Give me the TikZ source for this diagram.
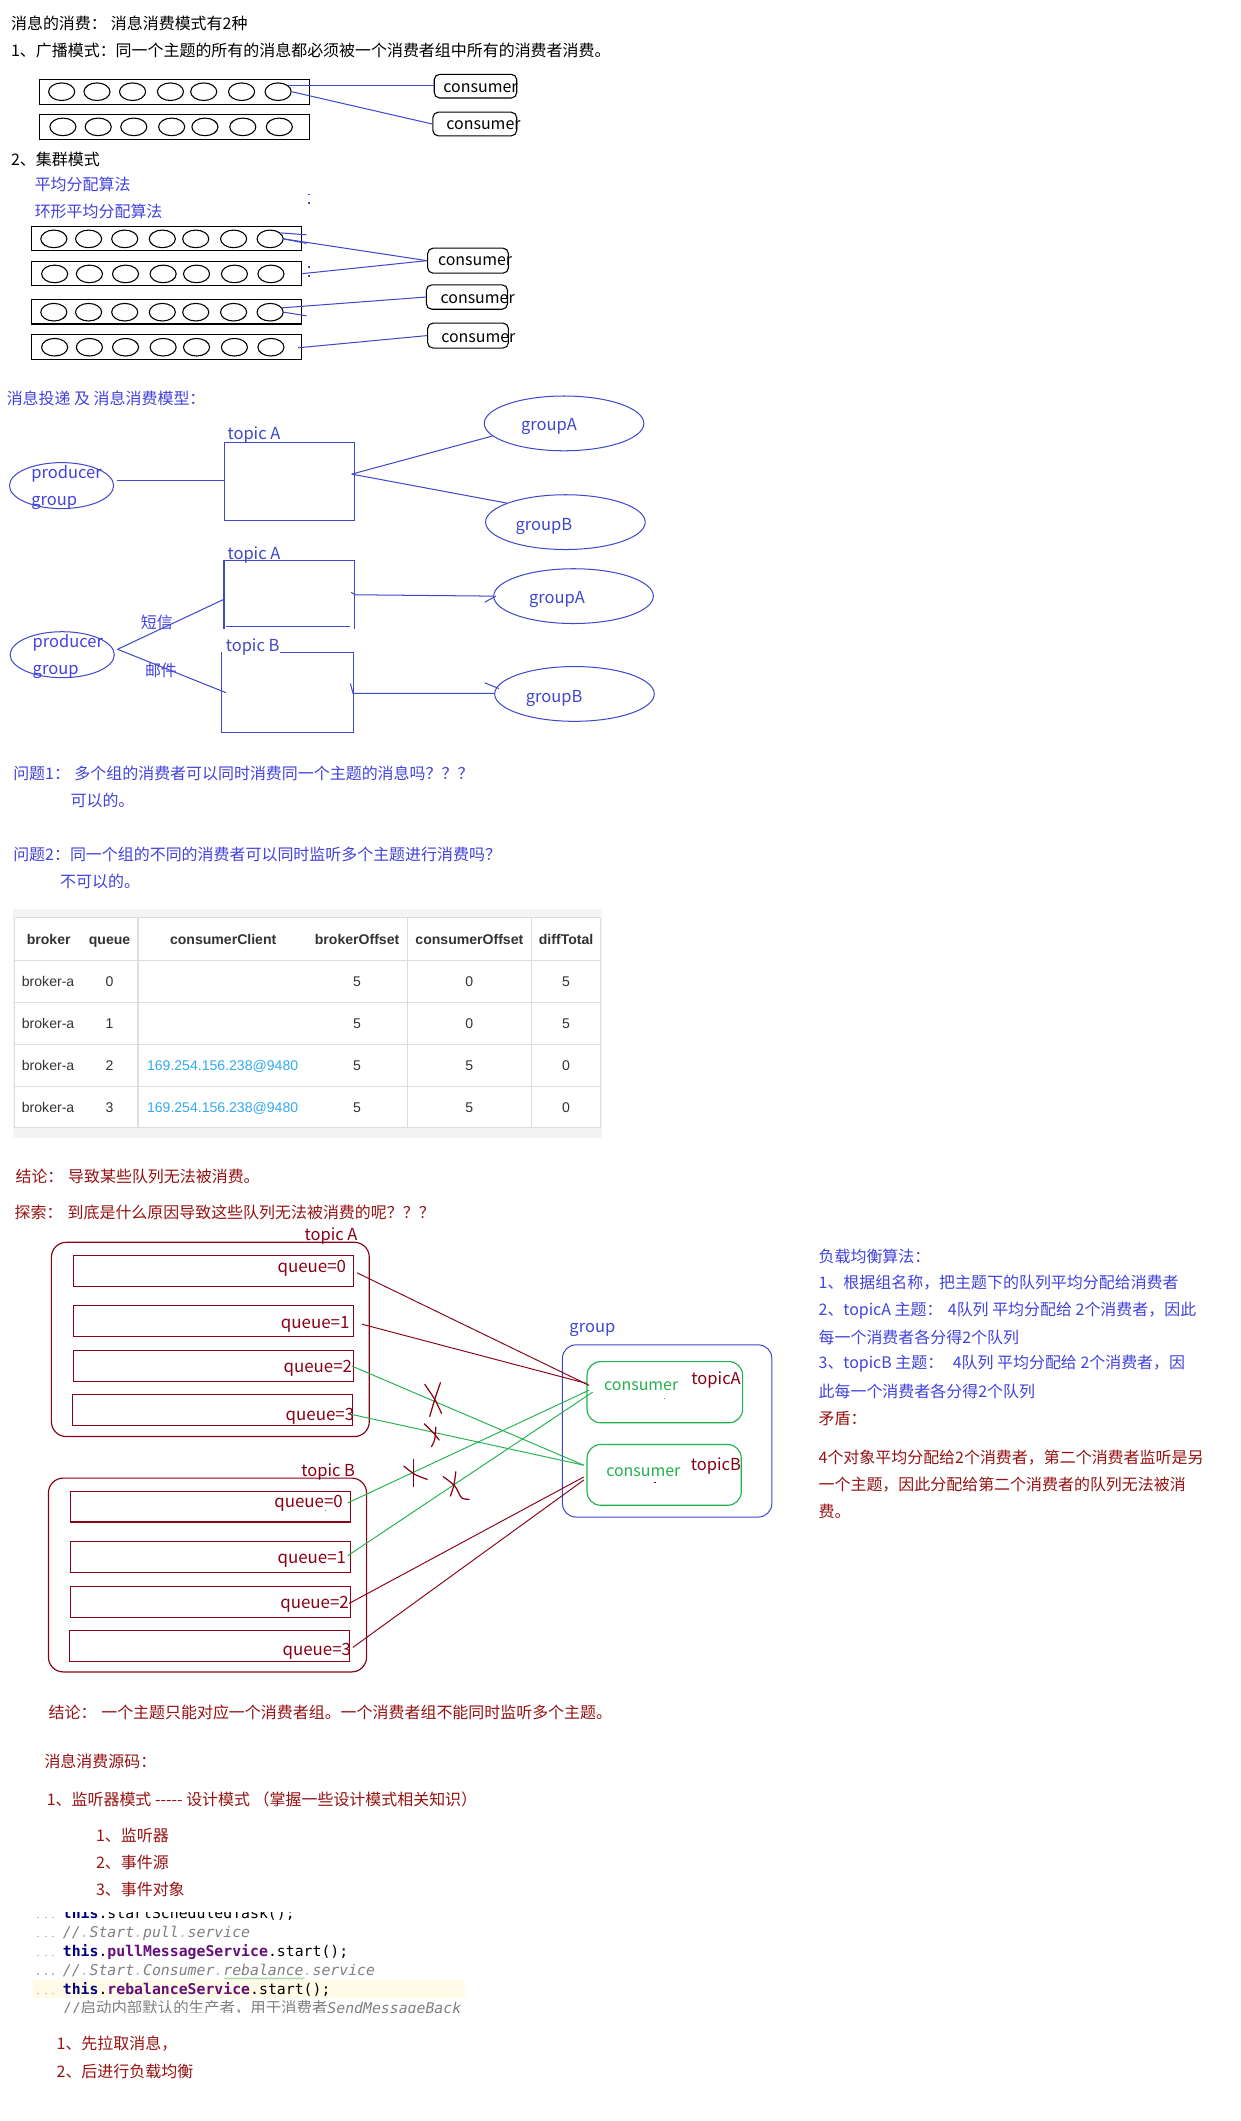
\documentclass[tikz,border=0pt]{standalone}
\usepackage{fontspec}
\setmainfont{Noto Sans CJK SC}
\newfontfamily\tablefont{Liberation Sans}
\newfontfamily\codefont{DejaVu Sans Mono}
\newfontfamily\codecjkfont{Noto Sans CJK SC}
\usetikzlibrary{shapes.geometric,calc,decorations.pathmorphing}

\definecolor{paintblue}{RGB}{63,72,204}
\definecolor{noteblue}{RGB}{66,66,222}
\definecolor{paintred}{RGB}{136,0,21}
\definecolor{notered}{RGB}{150,18,18}
\definecolor{paintgreen}{RGB}{34,177,76}
\definecolor{iplink}{RGB}{51,170,240}
\definecolor{cellrule}{RGB}{221,221,221}
\definecolor{tableback}{RGB}{244,244,244}
\definecolor{celltext}{RGB}{51,51,51}
\definecolor{curline}{RGB}{255,251,230}
\definecolor{kwnavy}{RGB}{0,0,128}
\definecolor{fieldpurple}{RGB}{102,14,122}
\definecolor{commentgray}{RGB}{128,128,128}
\definecolor{wsgray}{RGB}{190,190,190}
\definecolor{spellgreen}{RGB}{140,200,140}

\newcommand{\wsdot}{\textcolor{wsgray}{.}}

\begin{document}
\begin{tikzpicture}[x=1pt, y={(0,-1pt)},
  txt/.style={anchor=west, inner sep=0pt, font=\fontsize{11.8}{14}\selectfont},
  ptxt/.style={anchor=west, inner sep=0pt, font=\fontsize{12.2}{15}\selectfont},
  ctxt/.style={anchor=west, inner sep=0pt, font=\fontsize{11.8}{14}\selectfont},
  qtxt/.style={anchor=west, inner sep=0pt, font=\fontsize{12.5}{15}\selectfont, text=paintred},
  wire/.style={line width=0.75pt},
  slot/.style={draw=black, line width=0.9pt, minimum width=200pt, minimum height=18.4pt, inner sep=0pt},
  msg/.style={ellipse, draw=black, line width=0.8pt, minimum width=19.3pt, minimum height=13pt, inner sep=0pt},
  cbox/.style={draw=black, line width=0.8pt, rounded corners=4pt, minimum width=60pt, minimum height=18.3pt, inner sep=0pt},
  oval/.style={ellipse, draw=paintblue, line width=0.75pt, minimum width=118pt, minimum height=40.5pt, inner sep=0pt},
  pgoval/.style={ellipse, draw=paintblue, line width=0.75pt, minimum width=77pt, minimum height=34pt, inner sep=0pt},
  tbox/.style={line width=0.8pt, inner sep=0pt},
  qbox/.style={draw=paintred, line width=0.85pt, minimum width=207.2pt, minimum height=22.9pt, inner sep=0pt},
  topicframe/.style={draw=paintred, line width=0.85pt, rounded corners=11pt, inner sep=0pt},
  cell/.style={anchor=base, inner sep=0pt, font=\tablefont\fontsize{10.4}{12}\selectfont, text=celltext},
  head/.style={anchor=base, inner sep=0pt, font=\tablefont\bfseries\fontsize{10.4}{12}\selectfont, text=celltext},
  code/.style={anchor=base west, inner sep=0pt, font=\codefont\fontsize{10.95}{13}\selectfont},
  xmark/.style={draw=paintred, line width=0.9pt, line cap=round},
]
\useasboundingbox (0,0) rectangle (917,1568);
\fill[white] (0,0) rectangle (917,1568);

% ---------------- consumption modes ----------------
\node[txt] (title) at (8,17) {消息的消费：\hspace{3pt}消息消费模式有2种};
\node[txt] (bcast) at (8,37.4) {1、广播模式：同一个主题的所有的消息都必须被一个消费者组中所有的消费者消费。};

\node[slot] (bq1) at (129,67.8) {};
\node[slot] (bq2) at (129,93.8) {};
\foreach \x [count=\i] in {45.6,71.7,98,126,150.6,178.6,205.6} {
  \node[msg] (bq1c\i) at (\x,67.8) {};
  \node[msg] (bq2c\i) at (\x+0.9,93.8) {};
}
\node[cbox, minimum width=61pt, minimum height=17.5pt] (cb1) at (351.5,63.7) {};
\node[cbox, minimum width=62pt, minimum height=17.5pt] (cb2) at (351,91.7) {};
\node[ctxt] (cb1t) at (327.6,65.3) {consumer};
\node[ctxt] (cb2t) at (329.8,92.4) {consumer};
\draw[wire, paintblue] (bq1c7.north east) -- (bq1c7.north east -| cb1.west);
\draw[wire, paintblue] (bq1c7.east) -- (cb2.west);

\node[txt] (cluster) at (8,117.5) {2、集群模式};
\node[txt, text=noteblue] (avg) at (25.5,136) {平均分配算法};
\node[txt, text=noteblue] (ring) at (25.5,156) {环形平均分配算法};
\fill[paintblue] (227.8,143.1) rectangle (228.9,144.1);
\fill[paintblue] (227.8,149.7) rectangle (228.9,150.7);

\foreach \y/\dx [count=\r] in {176.6/0,202.5/0.6,230.8/0,256.7/0.6} {
  \node[slot, minimum width=199.7pt, minimum height=18pt] (cq\r) at (123.15,\y-0.2) {};
  \foreach \x [count=\i] in {39.8,65.5,92.2,120,144.7,172.7,199.7} {
    \node[msg] (cq\r c\i) at (\x+\dx,\y) {};
  }
}
\node[cbox, minimum width=59.7pt, minimum height=18.5pt] (cA) at (346,192.7) {};
\node[cbox, minimum width=60pt, minimum height=18pt] (cB) at (345.2,219.6) {};
\node[cbox, minimum width=59.7pt, minimum height=18.5pt] (cC) at (346,248.1) {};
\node[ctxt] (cAt) at (323.6,193.3) {consumer};
\node[ctxt] (cBt) at (325.5,221.2) {consumer};
\node[ctxt] (cCt) at (326,250) {consumer};

\coordinate (cq1tipA) at (226.6,173.6);
\coordinate (cq1tipB) at (226.6,180);
\coordinate (cq3tip) at (226.6,233.5);
\draw[wire, paintblue] (cq1c7.30) -- (cq1tipA);
\draw[wire, paintblue] (cq1c7.east) -- (cq1tipB);
\draw[wire, paintblue] (cq1c7.east) -- (cA.west);
\draw[wire, paintblue] (cq2.east) -- (cA.west);
\fill[paintblue] (227.8,197) rectangle (228.9,198);
\fill[paintblue] (227.8,203.5) rectangle (228.9,204.5);
\draw[wire, paintblue] (cq3c7.20) -- (cB.west);
\draw[wire, paintblue] (cq3c7.east) -- (cq3tip);
\draw[wire, paintblue] ($(cq4.east)+(-3,0.6)$) -- (cC.west);

% ---------------- delivery and consumption model ----------------
\node[txt, text=noteblue] (model) at (4.8,294.5) {消息投递 及 消息消费模型：};

\node[pgoval] (pg1) at (45.5,359) {};
\node[ptxt, text=noteblue] (pg1a) at (23,350.2) {producer};
\node[ptxt, text=noteblue] (pg1b) at (23,371.5) {group};
\node[tbox, draw=paintblue, minimum width=96pt, minimum height=58pt] (ta1) at (214,356) {};
\node[ptxt, text=paintblue] (ta1l) at (168,321.6) {topic A};
\node[oval] (gA1) at (417,313) {};
\node[ptxt, text=paintblue] (gA1t) at (385,315.5) {groupA};
\node[oval] (gB1) at (418,386) {};
\node[ptxt, text=paintblue] (gB1t) at (381,389.5) {groupB};
\coordinate (pg1o) at ($(pg1.east)+(2.4,-3.7)$);
\coordinate (ta1o) at ($(ta1.east)+(-2.4,-5.5)$);
\draw[wire, paintblue] (pg1o) -- (pg1o -| ta1.west);
\draw[wire, paintblue] (ta1o) -- (gA1.190);
\draw[wire, paintblue] (ta1o) -- (gB1.162);

\node[pgoval] (pg2) at (46,484) {};
\node[ptxt, text=noteblue] (pg2a) at (24,475.2) {producer};
\node[ptxt, text=noteblue] (pg2b) at (24,496.5) {group};
\node[tbox, minimum width=96pt, minimum height=49.3pt] (ta2) at (214,439.7) {};
\draw[paintblue, line width=0.8pt] (ta2.south west) -- (ta2.north west) -- (ta2.north east) -- (ta2.south east);
\draw[paintblue, line width=0.8pt] ($(ta2.south west)+(1.3,-1.4)$) -- ($(ta2.south east)+(-4,-1.4)$);
\node[ptxt, text=paintblue] (ta2l) at (168,410.2) {topic A};
\node[tbox, minimum width=96.2pt, minimum height=58.1pt] (tb) at (212.5,511.75) {};
\draw[paintblue, line width=0.8pt] ($(tb.north west)+(43.3,0)$) -- (tb.north east) -- (tb.south east) -- (tb.south west) -- (tb.north west);
\node[ptxt, text=paintblue] (tbl) at (166.7,478) {topic B};
\node[oval] (gA2) at (424,440.7) {};
\node[ptxt, text=paintblue] (gA2t) at (391,443) {groupA};
\node[oval] (gB2) at (424.7,513) {};
\node[ptxt, text=paintblue] (gB2t) at (388.5,516.5) {groupB};
\node[txt, text=noteblue] (sms) at (104,460) {短信};
\node[txt, text=noteblue] (mail) at (107,496) {邮件};
\coordinate (pg2o) at ($(pg2.east)+(2,-4)$);
\draw[wire, paintblue] (pg2o) -- ($(ta2.west)+(0.7,3)$);
\draw[wire, paintblue] (pg2o) -- ($(tb.west)+(3,0.3)$);
\coordinate (ta2tick) at (259.6,437.8);
\coordinate (gA2tick) at (358.3,445.2);
\draw[wire, paintblue] (ta2tick) -- (ta2.east) -- (gA2.west);
\draw[wire, paintblue] (gA2tick) -- ($(gA2.west)+(2,0)$);
\coordinate (tbtick) at (259,505.3);
\coordinate (gB2tick) at (358.3,504.8);
\draw[wire, paintblue] (tbtick) -- ($(tb.east)+(0,0.8)$) -- ($(gB2.west)+(0,-0.4)$);
\draw[wire, paintblue] (gB2tick) -- ($(gB2.west)+(3.5,-4)$);

% ---------------- questions ----------------
\node[txt, text=noteblue] (q1) at (9.6,572) {问题1：\hspace{3.3pt}多个组的消费者可以同时消费同一个主题的消息吗？？？};
\node[txt, text=noteblue] (a1) at (52,591.6) {可以的。};
\node[txt, text=noteblue] (q2) at (9.6,631.8) {问题2：同一个组的不同的消费者可以同时监听多个主题进行消费吗？};
\node[txt, text=noteblue] (a2) at (44.3,651.5) {不可以的。};

% ---------------- offset table ----------------
\fill[tableback] (9.6,672) rectangle (445,841);
\fill[white] (10.8,678.6) rectangle (443.7,833.8);
\foreach \x in {10.8,102,301,392.7,443.7}
  \draw[cellrule, line width=0.8pt] (\x,678.6) -- (\x,833.8);
\foreach \y in {678.6,709.9,740.9,772,803,833.8}
  \draw[cellrule, line width=0.8pt] (10.8,\y) -- (443.7,\y);
\node[head] (hbroker) at (36,697.9) {broker};
\node[head] (hqueue) at (81,697.9) {queue};
\node[head] (hclient) at (165,697.9) {consumerClient};
\node[head] (hbo) at (264,697.9) {brokerOffset};
\node[head] (hco) at (347,697.9) {consumerOffset};
\node[head] (hdiff) at (418.5,697.9) {diffTotal};
\foreach \y/\q/\ip/\co/\df [count=\r] in {729.1/0//0/5, 760.2/1//0/5, 791.2/2/169.254.156.238@9480/5/0, 822.1/3/169.254.156.238@9480/5/0} {
  \node[cell, anchor=base west] (rb\r) at (16,\y) {broker-a};
  \node[cell] (rq\r) at (81,\y) {\q};
  \node[cell, anchor=base west, text=iplink] (rc\r) at (108.5,\y) {\ip};
  \node[cell] (rbo\r) at (264,\y) {5};
  \node[cell] (rco\r) at (347,\y) {\co};
  \node[cell] (rdf\r) at (418.4,\y) {\df};
}

% ---------------- queues versus consumers ----------------
\node[txt, text=notered] (concl1) at (11.3,869.6) {结论：\hspace{3.5pt}导致某些队列无法被消费。};
\node[txt, text=notered] (probe) at (10.6,896.4) {探索：\hspace{3.8pt}到底是什么原因导致这些队列无法被消费的呢？？？};

\node[topicframe, minimum width=235pt, minimum height=143.6pt] (topA) at (155.5,990.2) {};
\node[ptxt, text=paintred] (topAl) at (225,913.8) {topic A};
\node[qbox] (qa0) at (157.9,939.75) {};
\node[qbox] (qa1) at (157.9,976.75) {};
\node[qbox] (qa2) at (157.9,1009.85) {};
\node[qbox] (qa3) at (157.2,1042.35) {};
\node[qtxt] (qa0t) at (205,937.5) {queue=0};
\node[qtxt] (qa1t) at (207.5,979) {queue=1};
\node[qtxt] (qa2t) at (209.4,1011.8) {queue=2};
\node[qtxt] (qa3t) at (211,1047) {queue=3};

\node[topicframe, minimum width=235.2pt, minimum height=143.3pt] (topB) at (153.4,1164.35) {};
\node[ptxt, text=paintred] (topBl) at (222.6,1088.2) {topic B};
\node[qbox, minimum width=207pt, minimum height=22.6pt] (qb0) at (155.5,1113.9) {};
\node[qbox, minimum width=207pt, minimum height=22.8pt] (qb1) at (155.5,1150.8) {};
\node[qbox, minimum width=207pt, minimum height=22.9pt] (qb2) at (155.5,1184.15) {};
\node[qbox, minimum width=207.2pt, minimum height=22.8pt] (qb3) at (154.9,1216.6) {};
\node[qtxt] (qb0t) at (202.6,1111.2) {queue=0};
\node[qtxt] (qb1t) at (205,1153) {queue=1};
\node[qtxt] (qb2t) at (207,1186) {queue=2};
\node[qtxt] (qb3t) at (208.7,1220.8) {queue=3};
\fill[paintgreen] (240,1116.4) rectangle (240.9,1117.3);

\node[ptxt, text=paintblue] (grpl) at (420.8,983) {group};
\node[draw=paintblue, line width=0.75pt, rounded corners=10pt, minimum width=154.8pt, minimum height=127.3pt, inner sep=0pt] (grp) at (493.2,1057.85) {};
\node[draw=paintgreen, line width=0.85pt, rounded corners=10pt, minimum width=115pt, minimum height=45.2pt, inner sep=0pt] (cnA) at (491.5,1029.2) {};
\node[draw=paintgreen, line width=0.85pt, rounded corners=10pt, minimum width=114pt, minimum height=44.9pt, inner sep=0pt] (cnB) at (491,1090.35) {};
\node[ctxt, text=paintgreen] (cnAt) at (446.4,1025) {consumer};
\node[ptxt, text=paintred] (cnAl) at (511,1020.3) {topicA};
\node[ctxt, text=paintgreen] (cnBt) at (448,1088) {consumer};
\node[ptxt, text=paintred] (cnBl) at (510.6,1084.1) {topicB};
\fill[paintgreen] (490.6,1033.6) rectangle (491.5,1034.5);
\fill[paintred] (483.6,1095.6) rectangle (484.6,1096.5);

\draw[wire, paintred, line width=0.7pt] ($(qa0.east)+(2,1.2)$) -- ($(cnA.west)+(2,-5)$);
\draw[wire, paintred, line width=0.7pt] ($(qa1.east)+(5.7,2.2)$) -- ($(cnA.west)+(0,-6.5)$);
\draw[wire, paintgreen, line width=0.7pt] ($(qa2.east)+(-1.9,0)$) -- ($(cnB.west)+(-2,-7.2)$);
\draw[wire, paintgreen, line width=0.7pt] ($(qa3.east)+(-1.2,3.3)$) -- ($(cnB.west)+(-2,-7.2)$);
\draw[wire, paintgreen, line width=0.7pt] ($(qb0.east)+(-2.4,-2.8)$) -- ($(cnA.west)+(1.8,-1.4)$);
\draw[wire, paintgreen, line width=0.7pt] ($(qb1.east)+(-2.4,-0.7)$) -- ($(cnA.west)+(4.5,0)$);
\draw[wire, paintred, line width=0.7pt] ($(qb2.east)+(-1.3,1.2)$) -- ($(cnB.west)+(-2,1.5)$);
\draw[wire, paintred, line width=0.7pt] ($(qb3.east)+(1.9,1.3)$) -- ($(cnB.west)+(-2,3.8)$);

% hand-drawn crossings on the unconsumed links
\draw[xmark] plot[smooth] coordinates {(314,1023.4) (321.4,1034.5) (326.4,1044.9)};
\draw[xmark] plot[smooth] coordinates {(325.6,1022.2) (321.4,1034.5) (317.7,1047.1)};
\draw[xmark] plot[smooth] coordinates {(313.6,1052.5) (321.4,1060.4) (324.6,1064.6)};
\draw[xmark] plot[smooth] coordinates {(322.2,1055) (321.4,1064) (319,1069.5)};
\draw[xmark] (305.9,1078.9) -- (305.9,1099);
\draw[xmark] plot[smooth] coordinates {(298.5,1083.8) (306.7,1090) (315.8,1093.6)};
\draw[xmark] plot[smooth] coordinates {(337,1088) (335.5,1098) (333,1105.9)};
\draw[xmark] plot[smooth] coordinates {(327.6,1091.6) (336.2,1098.5) (341.2,1107.2) (346.8,1108.4)};

% ---------------- load balancing notes ----------------
\node[txt, text=noteblue] (lb0) at (605,929) {负载均衡算法：};
\node[txt, text=noteblue] (lb1) at (605,948.2) {1、根据组名称，把主题下的队列平均分配给消费者};
\node[txt, text=noteblue] (lb2) at (605,968.6) {2、topicA 主题：\hspace{4pt}4队列 平均分配给 2个消费者，因此};
\node[txt, text=noteblue] (lb3) at (605,988.7) {每一个消费者各分得2个队列};
\node[txt, text=noteblue] (lb4) at (605,1008.4) {3、topicB 主题：\hspace{7pt}4队列 平均分配给 2个消费者，因};
\node[txt, text=noteblue] (lb5) at (605,1028.6) {此每一个消费者各分得2个队列};
\node[txt, text=notered] (lb6) at (605,1049) {矛盾：};
\node[txt, text=notered] (lb7) at (605,1077.7) {4个对象平均分配给2个消费者，第二个消费者监听是另};
\node[txt, text=notered] (lb8) at (605,1097.4) {一个主题，因此分配给第二个消费者的队列无法被消};
\node[txt, text=notered] (lb9) at (605,1117.7) {费。};

% ---------------- conclusion and source notes ----------------
\node[txt, text=notered] (concl2) at (35.8,1266.3) {结论：\hspace{3.5pt}一个主题只能对应一个消费者组。一个消费者组不能同时监听多个主题。};
\node[txt, text=notered] (src) at (32.7,1301.8) {消息消费源码：};
\node[txt, text=notered] (pat) at (34.4,1330.1) {1、监听器模式 -{}-{}-{}-{}- 设计模式 （掌握一些设计模式相关知识）};
\node[txt, text=notered] (pat1) at (70.8,1357.2) {1、监听器};
\node[txt, text=notered] (pat2) at (70.8,1376.9) {2、事件源};
\node[txt, text=notered] (pat3) at (70.8,1397.1) {3、事件对象};

\begin{scope}
  \clip (24,1414) rectangle (346,1487.6);
  \fill[curline] (24.1,1463.9) rectangle (343.6,1477.4);
  \foreach \b in {1418.2,1432.3,1446.3,1460.1,1474.2}
    \foreach \x in {28.3,33.9,39.4}
      \fill[wsgray] (\x-0.6,\b-1.2) rectangle (\x+0.6,\b);
  \node[code] (ln0) at (46.3,1418.2) {\textbf{\textcolor{kwnavy}{this}}.startScheduledTask();};
  \node[code, text=commentgray] (ln1) at (46.3,1432.3) {\itshape //\wsdot Start\wsdot pull\wsdot service};
  \node[code] (ln2) at (46.3,1446.3) {\textbf{\textcolor{kwnavy}{this}}.\textbf{\textcolor{fieldpurple}{pullMessageService}}.start();};
  \node[code, text=commentgray] (ln3) at (46.3,1460.1) {\itshape //\wsdot Start\wsdot Consumer\wsdot rebalance\wsdot service};
  \draw[spellgreen, line width=0.4pt, decorate, decoration={snake, amplitude=0.6pt, segment length=2pt}] (165.6,1462.6) -- (225.4,1462.6);
  \node[code] (ln4) at (46.3,1474.2) {\textbf{\textcolor{kwnavy}{this}}.\textbf{\textcolor{fieldpurple}{rebalanceService}}.start();};
  \node[code, text=commentgray] (ln5) at (46.3,1488.8) {//{\codecjkfont\fontsize{11.4}{13}\selectfont 启动内部默认的生产者，用于消费者}\itshape SendMessageBack};
\end{scope}

\node[txt, text=notered] (step1) at (41.7,1510.6) {1、先拉取消息，};
\node[txt, text=notered] (step2) at (41.7,1531) {2、后进行负载均衡};
\end{tikzpicture}
\end{document}
